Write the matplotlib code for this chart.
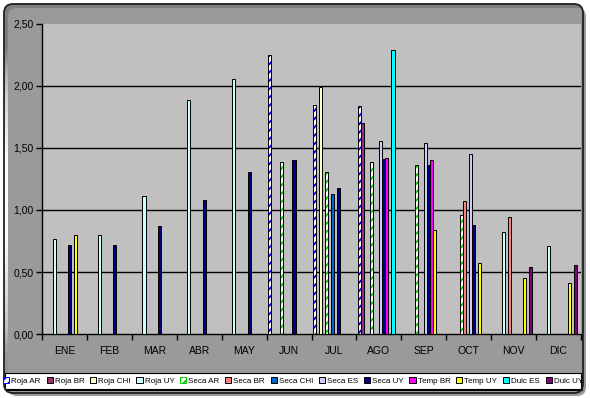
import numpy as np
import matplotlib
matplotlib.use('Agg')
import matplotlib.pyplot as plt
from matplotlib.patches import FancyBboxPatch, Rectangle, Patch
from matplotlib.ticker import FuncFormatter, MultipleLocator

plt.rcParams['font.family'] = ['Liberation Sans', 'DejaVu Sans']
plt.rcParams['hatch.linewidth'] = 1.4

# months
meses = ['ENE', 'FEB', 'MAR', 'ABR', 'MAY', 'JUN', 'JUL', 'AGO', 'SEP', 'OCT', 'NOV', 'DIC']

# series values (None = no bar)
roja_ar = [None, None, None, None, None, 2.25, 1.85, 1.84, None, None, None, None]
roja_br = [None, None, None, None, None, None, None, 1.70, None, None, None, None]
roja_chi = [None, None, None, None, None, None, 1.99, None, None, None, None, None]
roja_uy = [0.77, 0.80, 1.11, 1.89, 2.06, None, None, None, None, None, 0.82, 0.71]
seca_ar = [None, None, None, None, None, 1.39, 1.31, 1.39, 1.36, 0.96, None, None]
seca_br = [None, None, None, None, None, None, None, None, None, 1.07, 0.94, None]
seca_chi = [None, None, None, None, None, None, 1.13, None, None, None, None, None]
seca_es = [None, None, None, None, None, None, None, 1.56, 1.54, 1.45, None, None]
seca_uy = [0.72, 0.72, 0.87, 1.08, 1.31, 1.40, 1.18, 1.41, 1.36, 0.88, None, None]
temp_br = [None, None, None, None, None, None, None, 1.42, 1.40, None, None, None]
temp_uy = [0.80, None, None, None, None, None, None, None, 0.84, 0.57, 0.45, 0.41]
dulc_es = [None, None, None, None, None, None, None, 2.29, None, None, None, None]
dulc_uy = [None, None, None, None, None, None, None, None, None, None, 0.54, 0.56]

nombres = ['Roja AR', 'Roja BR', 'Roja CHI', 'Roja UY', 'Seca AR', 'Seca BR', 'Seca CHI',
           'Seca ES', 'Seca UY', 'Temp BR', 'Temp UY', 'Dulc ES', 'Dulc UY']
series = [roja_ar, roja_br, roja_chi, roja_uy, seca_ar, seca_br, seca_chi,
          seca_es, seca_uy, temp_br, temp_uy, dulc_es, dulc_uy]
# fill colour, hatch colour (None = solid)
colores = ['white', '#993366', '#ffffcc', '#ccffff', 'white', '#ff8080', '#0066cc',
           '#ccccff', '#000080', '#ff00ff', '#ffff00', '#00ffff', '#800080']
rayas = ['#0000ff', None, None, None, '#00cc00', None, None,
         None, None, None, None, None, None]

W, H = 590, 398
fig = plt.figure(figsize=(W / 100, H / 100), dpi=100)

# background of the chart area: rounded box with grey gradient
bg = fig.add_axes([0, 0, 1, 1], zorder=-10)
bg.set_xlim(0, W)
bg.set_ylim(H, 0)
bg.axis('off')
sombra = FancyBboxPatch((8, 8), 578, 388, boxstyle='round,pad=0,rounding_size=9',
                        facecolor='#9a9a9a', edgecolor='none')
bg.add_patch(sombra)
marco = FancyBboxPatch((4, 4), 579, 389, boxstyle='round,pad=0,rounding_size=9',
                       facecolor='none', edgecolor='#202020', linewidth=1.3, zorder=5)
bg.add_patch(marco)
ys = np.arange(H)
gris = np.interp(ys, [0, 48, 60, 80, 100, 135, 165, 235, 260, 300, 330, 345, 372, 398],
                 [127, 127, 150, 190, 212, 238, 255, 255, 238, 214, 190, 160, 140, 130])
img = np.repeat(gris[:, None], W, axis=1) / 255.0
im = bg.imshow(img, extent=[0, W, H, 0], cmap='gray', vmin=0, vmax=1, aspect='auto',
               interpolation='nearest')
clip = FancyBboxPatch((4, 4), 579, 389, boxstyle='round,pad=0,rounding_size=9',
                      facecolor='none', edgecolor='none', transform=bg.transData)
bg.add_patch(clip)
im.set_clip_path(clip)

# legend box
bg.add_patch(Rectangle((7, 375), 576, 16, facecolor='black', edgecolor='none', zorder=3))
bg.add_patch(Rectangle((5, 373), 576, 16, facecolor='white', edgecolor='black',
                       linewidth=0.8, zorder=4))

# plot area
ax = fig.add_axes([42 / W, 1 - 334 / H, (581 - 42) / W, (334 - 24) / H])
ax.set_facecolor('#c0c0c0')
ax.set_xlim(-0.5, 11.5)
ax.set_ylim(0, 2.5)

paso = 3.06 / 45
inicio = 3.0 / 45
for i, (vals, col, ray) in enumerate(zip(series, colores, rayas)):
    xs = [m - 0.5 + inicio + paso * i for m, v in enumerate(vals) if v is not None]
    hs = [v for v in vals if v is not None]
    if ray is None:
        ax.bar(xs, hs, paso, color=col, edgecolor='black', linewidth=0.7, zorder=3)
    else:
        ax.bar(xs, hs, paso, color=col, edgecolor=ray, hatch='////', linewidth=0, zorder=3)
        ax.bar(xs, hs, paso, fill=False, edgecolor='black', linewidth=0.7, zorder=3)

ax.yaxis.set_major_locator(MultipleLocator(0.5))
ax.yaxis.set_major_formatter(FuncFormatter(lambda v, p: f'{v:.2f}'.replace('.', ',')))
for g in [0.5, 1.0, 1.5, 2.0]:
    ax.axhline(g, color='black', linewidth=1.0, zorder=2)

ax.set_xticks(np.arange(-0.5, 12, 1))
ax.set_xticklabels([])
ax.set_xticks(np.arange(12), minor=True)
ax.set_xticklabels(meses, minor=True)
ax.tick_params(axis='x', which='major', direction='out', length=4, width=1, color='black')
ax.tick_params(axis='x', which='minor', length=0, pad=9, labelsize=7.5)
ax.tick_params(axis='y', direction='out', length=4, width=1, pad=2, labelsize=7.5)
for s in ['top', 'right']:
    ax.spines[s].set_visible(False)
for s in ['left', 'bottom']:
    ax.spines[s].set_linewidth(1.0)
    ax.spines[s].set_color('black')

manejadores = []
for n, col, ray in zip(nombres, colores, rayas):
    if ray is None:
        manejadores.append(Patch(facecolor=col, edgecolor='black', linewidth=0.7, label=n))
    else:
        manejadores.append(Patch(facecolor='white', edgecolor=ray, hatch='////',
                                 linewidth=0.7, label=n))
fig.legend(handles=manejadores, loc='center', bbox_to_anchor=(293 / W, 1 - 381 / H),
           ncol=13, frameon=False, fontsize=5.8, handlelength=0.75, handleheight=0.75,
           handletextpad=0.25, columnspacing=0.72, borderpad=0, borderaxespad=0)

fig.savefig('out.png', dpi=100)
